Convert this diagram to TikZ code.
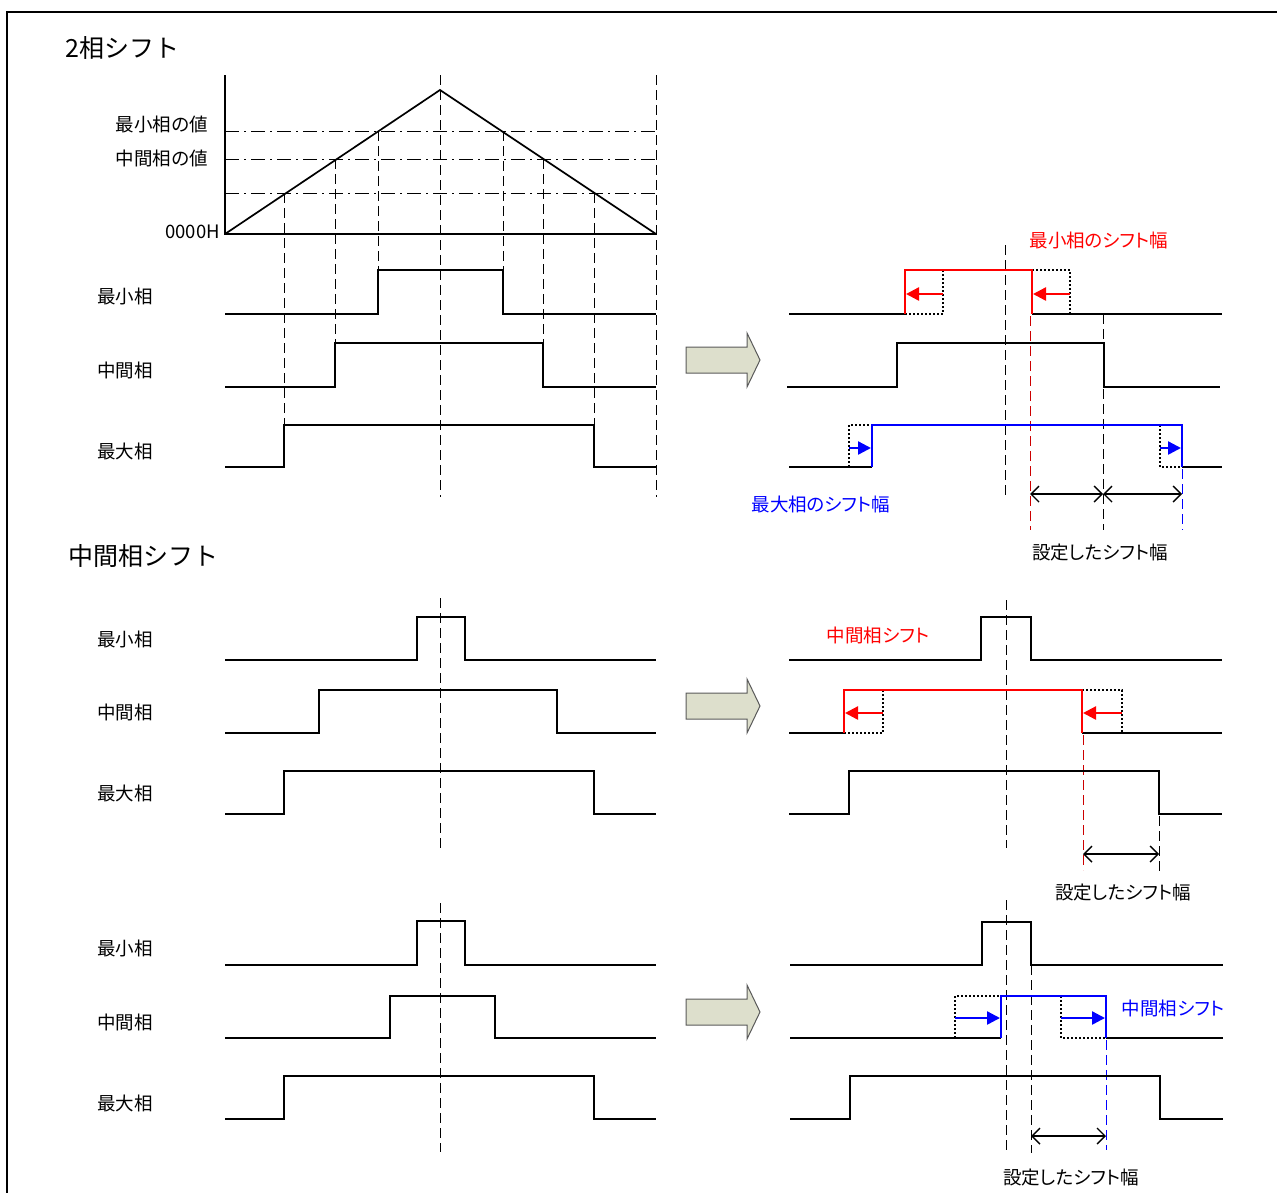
\documentclass[tikz,border=0pt]{standalone}
\usepackage{fontspec}
\newfontfamily\jp{Noto Sans CJK JP}[RawFeature=+palt]
\newfontfamily\jpm{Noto Sans CJK JP}
\usetikzlibrary{arrows.meta}
\definecolor{arrfill}{RGB}{221,223,204}
\definecolor{arrline}{RGB}{90,90,90}
\begin{document}
\begin{tikzpicture}[x=1pt,y=-1pt,
  wave/.style={line width=1.7pt, line join=miter},
  redw/.style={red, line width=2.4pt},
  bluw/.style={blue, line width=2.4pt},
  dsh/.style={line width=1pt, dash pattern=on 10pt off 5pt},
  reddash/.style={red!80!black, line width=0.9pt, dash pattern=on 10pt off 5pt},
  bluedash/.style={blue, line width=0.9pt, dash pattern=on 10pt off 5pt},
  dotbox/.style={line width=1.3pt, dash pattern=on 2pt off 2pt},
  dashdot/.style={line width=1pt, dash pattern=on 14pt off 5pt on 2pt off 5pt},
  rarr/.style={redw, -{Triangle[length=13pt,width=13pt]}},
  barr/.style={bluw, -{Triangle[length=13pt,width=13pt]}},
  dim/.style={line width=1.4pt, {Straight Barb[length=8pt,width=16pt]}-{Straight Barb[length=8pt,width=16pt]}},
  lbl/.style={inner sep=0pt, font=\jp\fontsize{18.5}{20}\selectfont},
  clbl/.style={inner sep=0pt, font=\jp\fontsize{18.5}{20}\selectfont},
  ttl/.style={inner sep=0pt, font=\jpm\fontsize{25}{28}\selectfont},
  bigarr/.style={fill=arrfill, draw=arrline, line width=1pt}
]
\useasboundingbox (0,0) rectangle (1277,1192);
\draw[line width=2pt] (7,1194) -- (7,12) -- (1279,12);

% titles
\node[ttl, anchor=west] (t1) at (65,48) {2相シフト};
\node[ttl, anchor=west] (t2) at (68,556) {中間相シフト};

% ---------- top left: triangle chart ----------
\draw[wave] (225,75) -- (225,234) -- (656,234);
\draw[wave] (225,234) -- (440,90) -- (656,234);
\foreach \yy in {131,159,193} \draw[dashdot] (225,\yy) -- (656,\yy);
\node[lbl, anchor=east] (vmin) at (208,124) {最小相の値};
\node[lbl, anchor=east] (vmid) at (208,158) {中間相の値};
\node[lbl, anchor=east] (v0) at (220,232) {0000H};

\draw[dsh] (440,75) -- (440,497);
\draw[dsh] (656,75) -- (656,497);
\draw[dsh] (284,193) -- (284,425);
\draw[dsh] (335,159) -- (335,343);
\draw[dsh] (378,131) -- (378,270);
\draw[dsh] (503,131) -- (503,270);
\draw[dsh] (543,159) -- (543,343);
\draw[dsh] (594,193) -- (594,425);

\draw[wave] (225,314) -- (378,314) -- (378,270) -- (503,270) -- (503,314) -- (656,314);
\draw[wave] (225,387) -- (335,387) -- (335,343) -- (543,343) -- (543,387) -- (656,387);
\draw[wave] (225,467) -- (284,467) -- (284,425) -- (594,425) -- (594,467) -- (656,467);
\node[lbl] (a1) at (125,296) {最小相};
\node[lbl] (a2) at (125,370) {中間相};
\node[lbl] (a3) at (125,451) {最大相};

% big arrows
\foreach \c in {360,706,1012}
  \draw[bigarr] (686,\c-13) -- (747,\c-13) -- (747,\c-27) -- (760,\c) -- (747,\c+27) -- (747,\c+13) -- (686,\c+13) -- cycle;

% ---------- top right ----------
\draw[dsh] (1005,245) -- (1005,497);
\draw[wave] (789,314) -- (905,314);
\draw[wave] (1032,314) -- (1222,314);
\draw[dotbox] (905,314) -- (943,314) -- (943,270);
\draw[dotbox] (1032,270) -- (1070,270) -- (1070,314);
\draw[redw] (905,314) -- (905,270) -- (1032,270) -- (1032,314);
\draw[rarr] (943,294) -- (906,294);
\draw[rarr] (1070,294) -- (1033,294);
\draw[reddash] (1030,316) -- (1030,530);

\draw[wave] (787,387) -- (897,387) -- (897,343) -- (1104,343) -- (1104,387) -- (1220,387);
\draw[dsh] (1103,314) -- (1103,530);

\draw[wave] (789,467) -- (872,467);
\draw[wave] (1182,467) -- (1222,467);
\draw[dotbox] (849,467) -- (849,425) -- (872,425);
\draw[dotbox] (1160,425) -- (1160,467) -- (1182,467);
\draw[bluw] (872,467) -- (872,425) -- (1182,425) -- (1182,467);
\draw[barr] (849,448) -- (871,448);
\draw[barr] (1160,448) -- (1181,448);
\draw[bluedash] (1182,469) -- (1182,530);

\coordinate (d1a) at (1030,494);
\coordinate (d1b) at (1103,494);
\coordinate (d1c) at (1182,494);
\draw[dim] (d1a) -- (d1b);
\draw[dim] (d1b) -- (d1c);

\node[clbl, text=red] (l1) at (1099,240) {最小相のシフト幅};
\node[clbl, text=blue] (l2) at (821,504) {最大相のシフト幅};
\node[clbl] (l3) at (1100,553) {設定したシフト幅};

% ---------- middle left ----------
\draw[dsh] (440,598) -- (440,848);
\draw[wave] (225,660) -- (417,660) -- (417,617) -- (465,617) -- (465,660) -- (656,660);
\draw[wave] (225,733) -- (319,733) -- (319,690) -- (557,690) -- (557,733) -- (656,733);
\draw[wave] (225,814) -- (284,814) -- (284,771) -- (594,771) -- (594,814) -- (656,814);
\node[lbl] (b1) at (125,639) {最小相};
\node[lbl] (b2) at (125,712) {中間相};
\node[lbl] (b3) at (125,793) {最大相};

% ---------- middle right ----------
\draw[dsh] (1006,600) -- (1006,848);
\draw[wave] (789,660) -- (981,660) -- (981,617) -- (1031,617) -- (1031,660) -- (1222,660);
\draw[wave] (789,733) -- (844,733);
\draw[wave] (1082,733) -- (1222,733);
\draw[dotbox] (844,733) -- (883,733) -- (883,690);
\draw[dotbox] (1082,690) -- (1122,690) -- (1122,733);
\draw[redw] (844,733) -- (844,690) -- (1082,690) -- (1082,733);
\draw[rarr] (883,713) -- (845,713);
\draw[rarr] (1122,713) -- (1083,713);
\draw[reddash] (1083,735) -- (1083,870);
\draw[wave] (789,814) -- (849,814) -- (849,771) -- (1159,771) -- (1159,814) -- (1222,814);
\draw[dsh] (1159,816) -- (1159,872);
\coordinate (d2a) at (1083,854);
\coordinate (d2b) at (1159,854);
\draw[dim] (d2a) -- (d2b);
\node[clbl, text=red] (l4) at (878,635) {中間相シフト};
\node[clbl] (l5) at (1123,893) {設定したシフト幅};

% ---------- bottom left ----------
\draw[dsh] (440,903) -- (440,1152);
\draw[wave] (225,965) -- (417,965) -- (417,921) -- (465,921) -- (465,965) -- (656,965);
\draw[wave] (225,1038) -- (390,1038) -- (390,996) -- (495,996) -- (495,1038) -- (656,1038);
\draw[wave] (225,1119) -- (284,1119) -- (284,1076) -- (594,1076) -- (594,1119) -- (656,1119);
\node[lbl] (c1) at (125,948) {最小相};
\node[lbl] (c2) at (125,1022) {中間相};
\node[lbl] (c3) at (125,1103) {最大相};

% ---------- bottom right ----------
\draw[dsh] (1006,900) -- (1006,1152);
\draw[dsh] (1031,965) -- (1031,1153);
\draw[wave] (790,965) -- (982,965) -- (982,922) -- (1031,922) -- (1031,965) -- (1223,965);
\draw[wave] (790,1038) -- (1001,1038);
\draw[wave] (1106,1038) -- (1223,1038);
\draw[dotbox] (955,1038) -- (955,996) -- (1001,996);
\draw[dotbox] (1061,996) -- (1061,1038) -- (1106,1038);
\draw[bluw] (1001,1038) -- (1001,996) -- (1106,996) -- (1106,1038);
\draw[barr] (955,1018) -- (1000,1018);
\draw[barr] (1061,1018) -- (1105,1018);
\draw[bluedash] (1106,1040) -- (1106,1150);
\draw[wave] (790,1119) -- (850,1119) -- (850,1076) -- (1160,1076) -- (1160,1119) -- (1223,1119);
\coordinate (d3a) at (1031,1136);
\coordinate (d3b) at (1106,1136);
\draw[dim] (d3a) -- (d3b);
\node[clbl, text=blue] (l6) at (1173,1008) {中間相シフト};
\node[clbl] (l7) at (1071,1177) {設定したシフト幅};
\end{tikzpicture}
\end{document}
